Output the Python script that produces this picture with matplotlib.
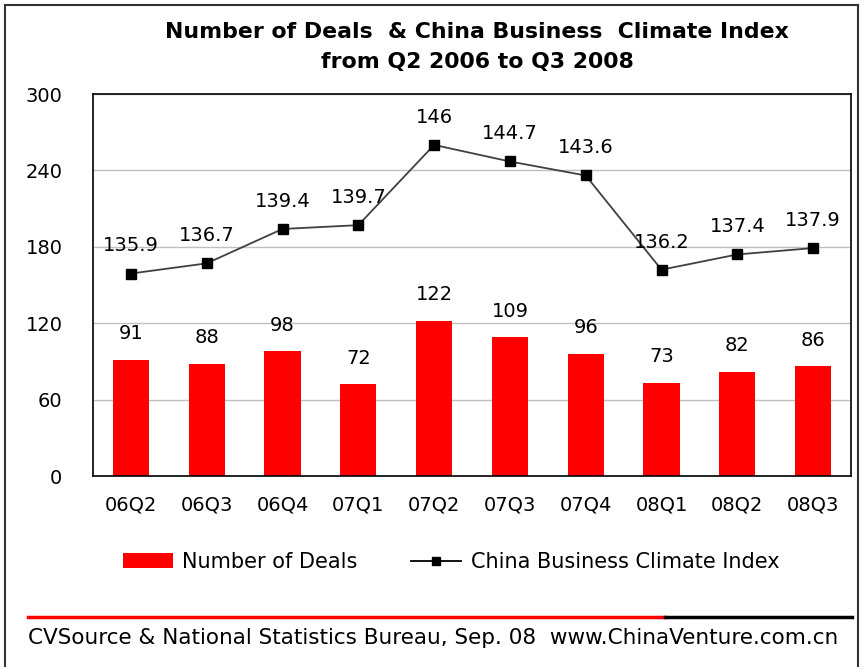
import matplotlib
matplotlib.use('Agg')
import matplotlib.pyplot as plt
from matplotlib.lines import Line2D
from matplotlib.patches import Patch
import numpy as np

quarters = ['06Q2', '06Q3', '06Q4', '07Q1', '07Q2', '07Q3', '07Q4', '08Q1', '08Q2', '08Q3']
deals = [91, 88, 98, 72, 122, 109, 96, 73, 82, 86]
climate_index = [135.9, 136.7, 139.4, 139.7, 146, 144.7, 143.6, 136.2, 137.4, 137.9]

plt.rcParams['font.family'] = ['DejaVu Sans']

fig = plt.figure(figsize=(8.61, 6.67), dpi=100)
ax = fig.add_axes([93 / 861, 1 - 476 / 667, 758 / 861, 382 / 667])

x = np.arange(len(quarters))
ax.bar(x, deals, width=0.48, color='#ff0000', zorder=2)
ax.set_ylim(0, 300)
ax.set_xlim(-0.5, len(quarters) - 0.5)
ax.set_yticks(np.arange(0, 301, 60))
ax.set_xticks(x)
ax.set_xticklabels(quarters)
ax.tick_params(axis='y', length=0, pad=22, labelsize=14)
ax.tick_params(axis='x', length=0, pad=14, labelsize=14)
ax.grid(axis='y', color='#c0c0c0', linewidth=1, zorder=0)
for s in ax.spines.values():
    s.set_linewidth(1.2)
    s.set_color('black')

for xi, v in zip(x, deals):
    ax.annotate(str(v), (xi, v), xytext=(0, 12), textcoords='offset points',
                ha='center', va='bottom', fontsize=14)

ax2 = ax.twinx()
ax2.set_ylim(120, 150)
ax2.plot(x, climate_index, color='#404040', linewidth=1.3, marker='s',
         markersize=7, markerfacecolor='black', markeredgecolor='black', zorder=3)
ax2.set_yticks([])
for s in ax2.spines.values():
    s.set_visible(False)
for xi, v in zip(x, climate_index):
    ax2.annotate(f'{v:g}', (xi, v), xytext=(0, 13), textcoords='offset points',
                 ha='center', va='bottom', fontsize=14)

# title
fig.text(477 / 861, 1 - 32 / 667, 'Number of Deals  & China Business  Climate Index',
         ha='center', va='center', fontsize=15.8, fontweight='bold')
fig.text(477 / 861, 1 - 62 / 667, 'from Q2 2006 to Q3 2008',
         ha='center', va='center', fontsize=15.8, fontweight='bold')

# legend
handles = [Patch(facecolor='#ff0000', edgecolor='none'),
           Line2D([0], [0], color='black', linewidth=1.3, marker='s', markersize=6)]
fig.legend(handles, ['Number of Deals', 'China Business Climate Index'],
           loc='center', bbox_to_anchor=(451 / 861, 1 - 562 / 667), ncol=2,
           frameon=False, handlelength=2.4, handletextpad=0.45,
           columnspacing=2.6, prop={'size': 15})

# footer rule and source
fig.add_artist(Line2D([28 / 861, 665 / 861], [1 - 617 / 667] * 2, color='#ff0000', linewidth=2.5))
fig.add_artist(Line2D([665 / 861, 852 / 861], [1 - 617 / 667] * 2, color='black', linewidth=2.5))
fig.text(28 / 861, 1 - 638 / 667,
         'CVSource & National Statistics Bureau, Sep. 08  www.ChinaVenture.com.cn',
         ha='left', va='center', fontsize=15.5)

# outer frame
fig.add_artist(Line2D([5 / 861, 5 / 861], [0, 1 - 5 / 667], color='#333333', linewidth=1.5))
fig.add_artist(Line2D([5 / 861, 858 / 861], [1 - 5 / 667] * 2, color='#333333', linewidth=1.5))
fig.add_artist(Line2D([858 / 861, 858 / 861], [0, 1 - 5 / 667], color='#333333', linewidth=1.5))

fig.savefig('out.png', dpi=100)
